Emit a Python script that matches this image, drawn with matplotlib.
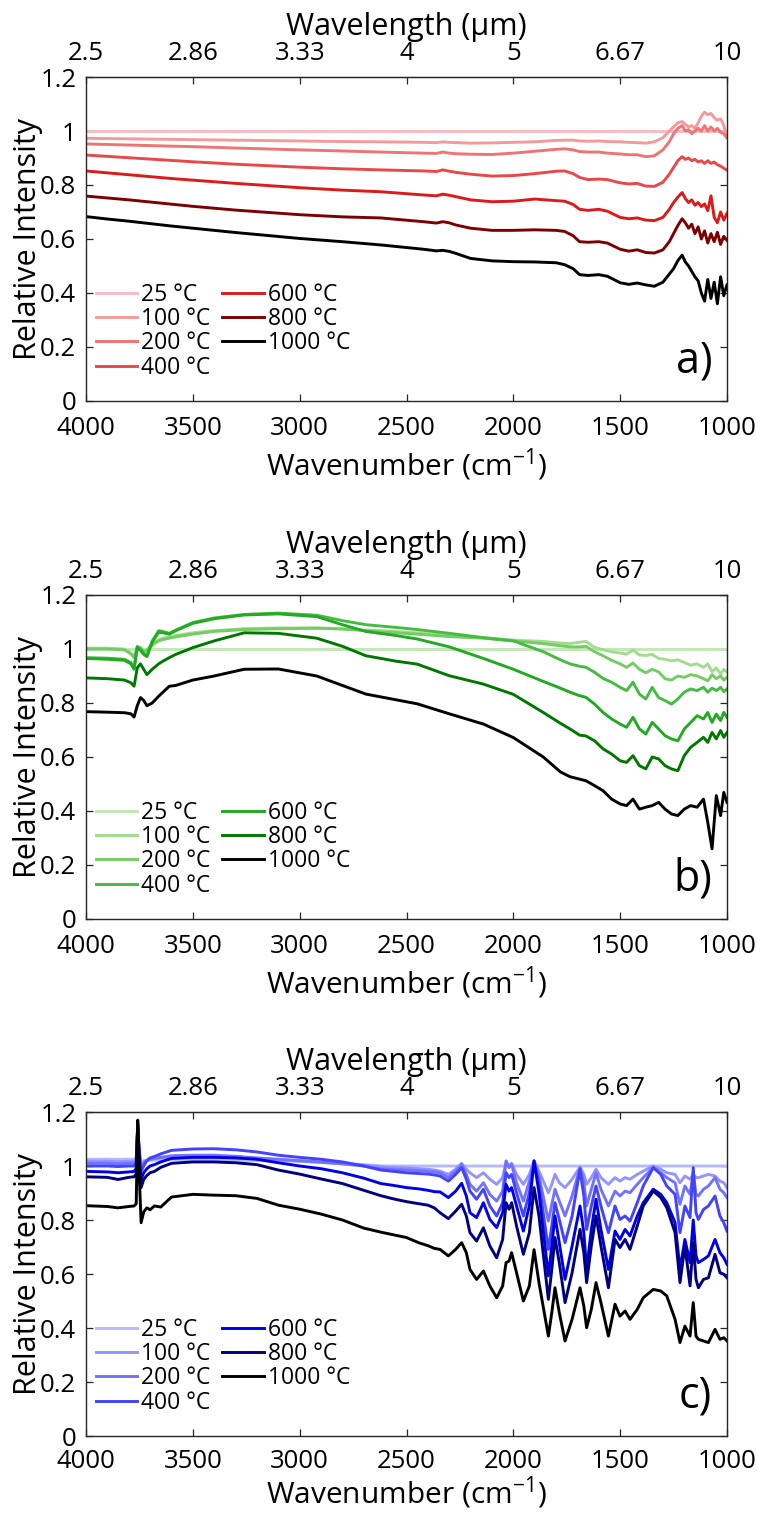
import matplotlib
matplotlib.use("Agg")
import matplotlib.pyplot as plt

plt.rcParams['font.family'] = ['Open Sans', 'DejaVu Sans']
plt.rcParams['mathtext.fontset'] = 'custom'
plt.rcParams['mathtext.rm'] = 'Open Sans'

# ---------------------------------------------------------------
# Axis ticks / labels
# ---------------------------------------------------------------
wn_ticks = [4000, 3500, 3000, 2500, 2000, 1500, 1000]
wn_tick_labels = ['4000', '3500', '3000', '2500', '2000', '1500', '1000']
wl_tick_labels = ['2.5', '2.86', '3.33', '4', '5', '6.67', '10']
y_ticks = [0, 0.2, 0.4, 0.6, 0.8, 1.0, 1.2]
y_tick_labels = ['0', '0.2', '0.4', '0.6', '0.8', '1', '1.2']
temp_labels = ['25 °C', '100 °C', '200 °C', '400 °C', '600 °C', '800 °C', '1000 °C']

# ---------------------------------------------------------------
# Panel a) data
# ---------------------------------------------------------------
a_25_wn = [4000, 1000]
a_25 = [1.0, 1.0]
a_wn = [4000, 3900, 3800, 3700, 3600, 3500, 3300, 3000, 2800, 2620,
        2420, 2360, 2330, 2300, 2270, 2200, 2100, 2000, 1900, 1800,
        1760, 1720, 1690, 1650, 1600, 1560, 1500, 1460, 1420, 1380,
        1340, 1300, 1270, 1250, 1230, 1210, 1195, 1180, 1165, 1150,
        1135, 1120, 1105, 1090, 1075, 1060, 1045, 1030, 1015, 1000]
a_100 = [0.973, 0.972, 0.971, 0.970, 0.969, 0.968, 0.966, 0.963, 0.961, 0.960,
         0.958, 0.957, 0.960, 0.958, 0.957, 0.955, 0.956, 0.958, 0.960, 0.965,
         0.966, 0.966, 0.963, 0.962, 0.963, 0.961, 0.960, 0.958, 0.957, 0.955,
         0.960, 0.975, 1.000, 1.015, 1.030, 1.035, 1.025, 1.015, 1.020, 1.010,
         1.030, 1.055, 1.070, 1.060, 1.065, 1.050, 1.040, 1.045, 1.020, 0.975]
a_200 = [0.952, 0.950, 0.948, 0.946, 0.944, 0.942, 0.937, 0.930, 0.926, 0.922,
         0.918, 0.917, 0.922, 0.918, 0.916, 0.914, 0.913, 0.918, 0.925, 0.932,
         0.934, 0.930, 0.924, 0.922, 0.922, 0.918, 0.915, 0.912, 0.912, 0.905,
         0.908, 0.930, 0.960, 0.990, 1.010, 1.020, 1.000, 1.005, 0.990, 1.000,
         1.010, 1.000, 1.020, 1.000, 1.015, 1.000, 1.010, 0.995, 0.990, 0.975]
a_400 = [0.911, 0.906, 0.901, 0.896, 0.891, 0.886, 0.877, 0.866, 0.860, 0.856,
         0.852, 0.850, 0.856, 0.851, 0.847, 0.840, 0.833, 0.835, 0.842, 0.851,
         0.852, 0.842, 0.828, 0.820, 0.822, 0.820, 0.808, 0.804, 0.806, 0.796,
         0.795, 0.810, 0.840, 0.865, 0.890, 0.905, 0.895, 0.900, 0.890, 0.895,
         0.885, 0.890, 0.880, 0.890, 0.880, 0.885, 0.875, 0.870, 0.862, 0.855]
a_600 = [0.852, 0.845, 0.838, 0.831, 0.824, 0.818, 0.806, 0.790, 0.781, 0.775,
         0.763, 0.760, 0.766, 0.762, 0.757, 0.745, 0.738, 0.740, 0.748, 0.742,
         0.740, 0.728, 0.710, 0.706, 0.710, 0.703, 0.680, 0.675, 0.678, 0.670,
         0.668, 0.680, 0.710, 0.735, 0.755, 0.772, 0.750, 0.735, 0.745, 0.725,
         0.735, 0.720, 0.730, 0.705, 0.760, 0.680, 0.660, 0.700, 0.670, 0.695]
a_800 = [0.759, 0.752, 0.745, 0.737, 0.729, 0.721, 0.707, 0.690, 0.682, 0.678,
         0.664, 0.659, 0.664, 0.660, 0.652, 0.640, 0.632, 0.632, 0.634, 0.632,
         0.628, 0.612, 0.590, 0.588, 0.590, 0.585, 0.562, 0.555, 0.560, 0.550,
         0.548, 0.560, 0.590, 0.620, 0.650, 0.675, 0.660, 0.640, 0.655, 0.620,
         0.645, 0.600, 0.630, 0.585, 0.620, 0.590, 0.625, 0.580, 0.610, 0.595]
a_1000 = [0.683, 0.674, 0.666, 0.657, 0.648, 0.640, 0.624, 0.602, 0.590, 0.578,
          0.562, 0.556, 0.558, 0.554, 0.547, 0.528, 0.519, 0.516, 0.515, 0.512,
          0.505, 0.490, 0.468, 0.465, 0.468, 0.462, 0.438, 0.432, 0.437, 0.430,
          0.425, 0.440, 0.470, 0.490, 0.520, 0.540, 0.515, 0.500, 0.480, 0.460,
          0.445, 0.400, 0.370, 0.450, 0.380, 0.440, 0.360, 0.460, 0.390, 0.430]

# ---------------------------------------------------------------
# Panel b) data
# ---------------------------------------------------------------
b_25_wn = [4000, 1000]
b_25 = [1.0, 1.0]
b_wn = [4000, 3900, 3820, 3790, 3775, 3760, 3745, 3730, 3715, 3690,
        3660, 3640, 3610, 3580, 3500, 3400, 3260, 3100, 2920, 2800,
        2690, 2550, 2450, 2300, 2140, 2000, 1860, 1780, 1735, 1690,
        1660, 1620, 1580, 1540, 1500, 1470, 1440, 1410, 1380, 1350,
        1320, 1290, 1260, 1230, 1200, 1170, 1140, 1110, 1090, 1070,
        1050, 1030, 1015, 1000]
b_100 = [1.003, 1.003, 1.000, 0.985, 0.972, 1.008, 1.005, 0.992, 0.998, 1.018,
         1.035, 1.040, 1.045, 1.050, 1.060, 1.068, 1.075, 1.078, 1.078, 1.075,
         1.070, 1.065, 1.060, 1.050, 1.042, 1.033, 1.028, 1.022, 1.020, 1.025,
         1.028, 1.006, 0.997, 0.990, 0.985, 0.981, 0.996, 0.978, 0.976, 0.980,
         0.965, 0.962, 0.956, 0.960, 0.950, 0.940, 0.945, 0.932, 0.945, 0.916,
         0.930, 0.907, 0.925, 0.914]
b_200 = [1.000, 1.000, 0.997, 0.982, 0.968, 1.000, 1.005, 0.990, 0.995, 1.015,
         1.030, 1.035, 1.040, 1.045, 1.055, 1.065, 1.072, 1.075, 1.077, 1.074,
         1.068, 1.060, 1.055, 1.046, 1.040, 1.030, 1.020, 1.012, 1.008, 1.008,
         1.010, 0.990, 0.975, 0.958, 0.945, 0.932, 0.948, 0.925, 0.912, 0.925,
         0.915, 0.890, 0.885, 0.900, 0.895, 0.905, 0.900, 0.890, 0.882, 0.905,
         0.890, 0.900, 0.885, 0.895]
b_400 = [0.968, 0.966, 0.962, 0.950, 0.930, 1.010, 1.000, 0.985, 0.975, 1.030,
         1.068, 1.065, 1.058, 1.070, 1.098, 1.115, 1.128, 1.133, 1.125, 1.105,
         1.090, 1.080, 1.072, 1.058, 1.042, 1.030, 0.990, 0.960, 0.945, 0.936,
         0.932, 0.914, 0.891, 0.877, 0.858, 0.846, 0.877, 0.833, 0.815, 0.858,
         0.820, 0.809, 0.796, 0.815, 0.840, 0.852, 0.846, 0.858, 0.840, 0.855,
         0.846, 0.858, 0.842, 0.852]
b_600 = [0.965, 0.962, 0.958, 0.945, 0.925, 1.005, 0.995, 0.980, 0.972, 1.025,
         1.062, 1.060, 1.055, 1.068, 1.095, 1.112, 1.126, 1.130, 1.120, 1.090,
         1.065, 1.050, 1.037, 1.008, 0.965, 0.925, 0.880, 0.855, 0.840, 0.827,
         0.821, 0.796, 0.765, 0.741, 0.722, 0.710, 0.747, 0.704, 0.685, 0.728,
         0.704, 0.679, 0.667, 0.660, 0.704, 0.728, 0.753, 0.741, 0.765, 0.728,
         0.759, 0.735, 0.765, 0.747]
b_800 = [0.893, 0.890, 0.885, 0.875, 0.862, 0.930, 0.945, 0.925, 0.905, 0.925,
         0.945, 0.955, 0.968, 0.980, 1.005, 1.030, 1.060, 1.058, 1.040, 1.010,
         0.975, 0.955, 0.944, 0.901, 0.870, 0.832, 0.765, 0.725, 0.704, 0.681,
         0.678, 0.660, 0.630, 0.611, 0.586, 0.580, 0.605, 0.568, 0.556, 0.600,
         0.593, 0.568, 0.556, 0.549, 0.605, 0.636, 0.654, 0.673, 0.654, 0.691,
         0.667, 0.698, 0.673, 0.691]
b_1000 = [0.768, 0.766, 0.764, 0.760, 0.748, 0.790, 0.820, 0.810, 0.790, 0.800,
          0.825, 0.840, 0.862, 0.865, 0.885, 0.900, 0.925, 0.926, 0.900, 0.865,
          0.833, 0.812, 0.797, 0.760, 0.722, 0.672, 0.600, 0.545, 0.527, 0.518,
          0.512, 0.494, 0.475, 0.444, 0.426, 0.420, 0.444, 0.407, 0.414, 0.420,
          0.432, 0.407, 0.389, 0.383, 0.407, 0.420, 0.414, 0.444, 0.358, 0.260,
          0.457, 0.383, 0.469, 0.432]

# ---------------------------------------------------------------
# Panel c) data
# ---------------------------------------------------------------
c_25_wn = [4000, 3780, 3765, 3758, 3750, 3742, 3730, 3600, 3000, 2800, 2600, 1000]
c_25 = [1.025, 1.025, 1.030, 1.100, 1.050, 1.010, 1.020, 1.025, 1.018, 1.010, 1.000, 1.000]
c_wn = [4000, 3900, 3850, 3800, 3775, 3765, 3758, 3750, 3742, 3730,
        3715, 3700, 3680, 3650, 3600, 3500, 3400, 3300, 3200, 3100,
        3000, 2900, 2800, 2700, 2620, 2560, 2500, 2440, 2400, 2370,
        2343, 2304, 2270, 2242, 2220, 2203, 2172, 2140, 2110, 2078,
        2050, 2034, 2020, 2008, 1985, 1953, 1925, 1903, 1880, 1836,
        1820, 1805, 1785, 1758, 1725, 1688, 1670, 1657, 1635, 1613,
        1590, 1555, 1524, 1501, 1477, 1454, 1420, 1392, 1345, 1310,
        1282, 1243, 1220, 1197, 1173, 1158, 1145, 1134, 1110, 1087,
        1056, 1033, 1015, 1000]
c_100 = [1.018, 1.018, 1.016, 1.018, 1.018, 1.025, 1.130, 1.050, 1.000, 1.015,
         1.022, 1.025, 1.027, 1.030, 1.033, 1.035, 1.034, 1.030, 1.027, 1.022,
         1.018, 1.013, 1.008, 1.003, 0.997, 0.995, 0.993, 0.990, 0.988, 0.985,
         0.981, 0.969, 0.988, 1.010, 0.988, 0.975, 0.957, 0.975, 0.951, 0.932,
         0.957, 1.015, 1.000, 1.010, 0.969, 0.932, 0.969, 1.019, 0.981, 0.901,
         0.932, 0.969, 0.938, 0.920, 0.951, 0.996, 0.969, 0.932, 0.957, 0.988,
         0.957, 0.932, 0.957, 0.944, 0.957, 0.951, 0.969, 0.981, 1.000, 0.988,
         0.975, 0.969, 0.938, 0.963, 0.951, 0.969, 0.957, 0.957, 0.963, 0.969,
         0.963, 0.944, 0.938, 0.920]
c_200 = [1.010, 1.010, 1.008, 1.010, 1.010, 1.020, 1.140, 1.050, 0.990, 1.010,
         1.020, 1.025, 1.028, 1.032, 1.038, 1.040, 1.040, 1.036, 1.030, 1.025,
         1.020, 1.015, 1.008, 1.000, 0.990, 0.987, 0.985, 0.983, 0.980, 0.978,
         0.975, 0.957, 0.981, 1.006, 0.969, 0.932, 0.907, 0.938, 0.895, 0.870,
         0.907, 1.019, 0.994, 1.006, 0.938, 0.870, 0.944, 1.019, 0.963, 0.796,
         0.858, 0.914, 0.870, 0.815, 0.889, 0.994, 0.938, 0.852, 0.914, 0.975,
         0.914, 0.852, 0.907, 0.889, 0.907, 0.901, 0.932, 0.957, 0.994, 0.975,
         0.957, 0.938, 0.858, 0.926, 0.895, 0.975, 0.895, 0.889, 0.914, 0.926,
         0.957, 0.914, 0.901, 0.883]
c_400 = [1.000, 1.000, 0.998, 1.000, 1.000, 1.010, 1.150, 1.040, 0.980, 1.000,
         1.020, 1.030, 1.035, 1.045, 1.058, 1.063, 1.064, 1.060, 1.052, 1.040,
         1.032, 1.025, 1.015, 1.000, 0.985, 0.980, 0.975, 0.972, 0.970, 0.967,
         0.963, 0.944, 0.969, 0.994, 0.951, 0.907, 0.877, 0.914, 0.852, 0.815,
         0.864, 0.975, 0.957, 0.969, 0.901, 0.815, 0.901, 1.012, 0.938, 0.691,
         0.778, 0.864, 0.802, 0.716, 0.815, 0.988, 0.889, 0.765, 0.852, 0.926,
         0.852, 0.753, 0.852, 0.802, 0.815, 0.796, 0.864, 0.926, 0.994, 0.969,
         0.926, 0.895, 0.753, 0.852, 0.809, 0.994, 0.827, 0.802, 0.839, 0.852,
         0.889, 0.815, 0.790, 0.759]
c_600 = [0.980, 0.978, 0.975, 0.978, 0.980, 0.990, 1.160, 1.020, 0.950, 0.975,
         0.990, 1.000, 1.005, 1.015, 1.028, 1.032, 1.032, 1.030, 1.025, 1.012,
         1.000, 0.990, 0.975, 0.955, 0.935, 0.928, 0.920, 0.915, 0.910, 0.905,
         0.904, 0.883, 0.907, 0.936, 0.889, 0.827, 0.809, 0.864, 0.802, 0.772,
         0.827, 0.932, 0.907, 0.920, 0.852, 0.759, 0.852, 1.019, 0.901, 0.593,
         0.704, 0.815, 0.716, 0.580, 0.704, 0.852, 0.753, 0.617, 0.765, 0.877,
         0.765, 0.617, 0.759, 0.728, 0.765, 0.741, 0.815, 0.864, 0.914, 0.895,
         0.864, 0.790, 0.617, 0.728, 0.642, 0.800, 0.667, 0.642, 0.654, 0.667,
         0.728, 0.679, 0.660, 0.636]
c_800 = [0.960, 0.958, 0.950, 0.958, 0.960, 0.970, 1.160, 1.000, 0.920, 0.950,
         0.965, 0.975, 0.980, 0.995, 1.010, 1.015, 1.015, 1.012, 1.005, 0.985,
         0.970, 0.952, 0.935, 0.910, 0.890, 0.878, 0.868, 0.860, 0.855, 0.845,
         0.827, 0.805, 0.833, 0.858, 0.815, 0.753, 0.722, 0.771, 0.704, 0.660,
         0.728, 0.864, 0.840, 0.864, 0.778, 0.673, 0.753, 0.920, 0.815, 0.506,
         0.617, 0.735, 0.642, 0.494, 0.605, 0.765, 0.679, 0.568, 0.704, 0.815,
         0.704, 0.549, 0.728, 0.698, 0.728, 0.691, 0.778, 0.852, 0.907, 0.883,
         0.846, 0.753, 0.568, 0.704, 0.556, 0.716, 0.580, 0.549, 0.580, 0.586,
         0.673, 0.605, 0.599, 0.586]
c_1000 = [0.853, 0.850, 0.845, 0.850, 0.852, 0.860, 1.170, 0.950, 0.790, 0.830,
          0.845, 0.838, 0.852, 0.848, 0.885, 0.895, 0.892, 0.890, 0.880, 0.855,
          0.840, 0.822, 0.800, 0.770, 0.755, 0.745, 0.735, 0.715, 0.705, 0.695,
          0.691, 0.667, 0.691, 0.716, 0.679, 0.617, 0.580, 0.611, 0.556, 0.512,
          0.556, 0.642, 0.648, 0.679, 0.605, 0.500, 0.556, 0.690, 0.568, 0.370,
          0.457, 0.549, 0.457, 0.352, 0.432, 0.549, 0.481, 0.401, 0.469, 0.568,
          0.494, 0.370, 0.488, 0.444, 0.463, 0.432, 0.469, 0.512, 0.543, 0.537,
          0.519, 0.432, 0.346, 0.407, 0.370, 0.494, 0.370, 0.358, 0.352, 0.346,
          0.395, 0.358, 0.364, 0.352]

# Colour ramps (25 -> 1000 °C)
reds = ['#f8bcc4', '#f49a9c', '#ef7474', '#e84848', '#dc1a1a', '#7d0000', '#000000']
greens = ['#c2e8b4', '#a2dc8e', '#74cc64', '#46bb42', '#22aa22', '#007800', '#000000']
blues = ['#b8b8ff', '#9494ff', '#7272ff', '#4242ff', '#0000e8', '#00007e', '#000000']

fig = plt.figure(figsize=(7.57, 15.15), dpi=100)
ax_left, ax_w, ax_h = 86 / 757, 641 / 757, 324 / 1515
panel_bottoms = [(1515 - 401) / 1515, (1515 - 919) / 1515, (1515 - 1436) / 1515]
xtick_pads = [11, 11, 9]
xlabel_pads = [4, 4, 0.8]

panels = [
    ('a)', reds, a_25_wn, a_25, a_wn, [a_100, a_200, a_400, a_600, a_800, a_1000]),
    ('b)', greens, b_25_wn, b_25, b_wn, [b_100, b_200, b_400, b_600, b_800, b_1000]),
    ('c)', blues, c_25_wn, c_25, c_wn, [c_100, c_200, c_400, c_600, c_800, c_1000]),
]

axis_col = '#262626'
for i, (letter, cols, wn25, v25, wn, series) in enumerate(panels):
    ax = fig.add_axes([ax_left, panel_bottoms[i], ax_w, ax_h])

    # 25 °C reference first, then the rest in temperature order
    ax.plot(wn25, v25, color=cols[0], lw=2.1, label=temp_labels[0])
    for vals, col, lab in zip(series, cols[1:], temp_labels[1:]):
        ax.plot(wn, vals, color=col, lw=2.1, label=lab, solid_joinstyle='round')

    ax.set_xlim(4000, 1000)
    ax.set_ylim(0, 1.2)
    ax.set_xticks(wn_ticks)
    ax.set_xticklabels(wn_tick_labels)
    ax.set_yticks(y_ticks)
    ax.set_yticklabels(y_tick_labels)
    ax.tick_params(direction='in', length=5, width=0.9, right=True, top=False,
                   color=axis_col, labelsize=18.5)
    ax.tick_params(axis='x', pad=xtick_pads[i])
    ax.tick_params(axis='y', pad=7)
    for sp in ax.spines.values():
        sp.set_color(axis_col)
        sp.set_linewidth(1.0)

    ax.set_xlabel('Wavenumber (cm$^{\\mathregular{-1}}$)', fontsize=21.5,
                  labelpad=xlabel_pads[i])
    ax.set_ylabel('Relative Intensity', fontsize=22, labelpad=-2)

    top = ax.secondary_xaxis('top')
    top.set_xticks(wn_ticks, labels=wl_tick_labels)
    top.tick_params(direction='in', length=5, width=0.9, color=axis_col,
                    labelsize=18.5, pad=8)
    top.spines['top'].set_color(axis_col)
    top.set_xlabel('Wavelength (µm)', fontsize=22, labelpad=4)

    ax.legend(ncol=2, loc='lower left', bbox_to_anchor=(0.015, 0.065),
              frameon=False, fontsize=16.5, handlelength=1.8, handletextpad=0.2,
              columnspacing=0.5, labelspacing=0.02, borderaxespad=0, borderpad=0)

    ax.text(0.977, 0.055, letter, transform=ax.transAxes, ha='right', va='bottom',
            fontsize=31)

fig.savefig('out.png', dpi=100)
